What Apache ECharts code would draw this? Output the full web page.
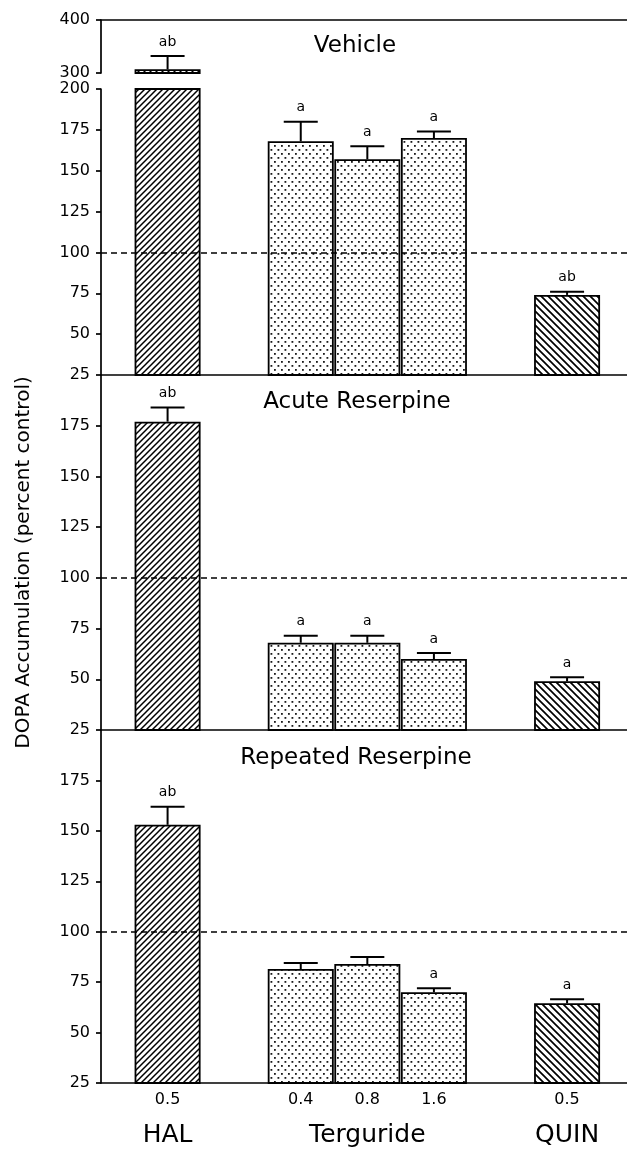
<!DOCTYPE html>
<html><head><meta charset="utf-8">
<script src="https://cdn.jsdelivr.net/npm/echarts@6/dist/echarts.min.js"></script>
<style>html,body{margin:0;padding:0;background:#fff}#c{width:627px;height:1155px}</style>
</head><body><div id="c"></div>
<script>
// ---- data ----
const doseLabels = ['0.5', '0.4', '0.8', '1.6', '0.5'];
const xPos = [1, 3, 4, 5, 7];
const groupNames = ['HAL', 'Terguride', 'QUIN'];
const groupPos = [1, 4, 7];
const fills = ['hatchUp', 'dots', 'dots', 'dots', 'hatchDown'];
const panelTitles = ['Vehicle', 'Acute Reserpine', 'Repeated Reserpine'];
const refValue = 100;

const vehicleMean = [307, 168, 157, 170, 74];
const vehicleErr = [332, 180, 165, 174, 76];
const vehicleSig = ['ab', 'a', 'a', 'a', 'ab'];

const acuteMean = [177, 68, 68, 60, 49];
const acuteErr = [184, 71.5, 71.5, 63, 51];
const acuteSig = ['ab', 'a', 'a', 'a', 'a'];

const repeatedMean = [153, 81.5, 84, 70, 64.5];
const repeatedErr = [162, 84.5, 87.5, 72, 66.5];
const repeatedSig = ['ab', '', '', 'a', 'a'];

const yAxisName = 'DOPA Accumulation (percent control)';

// ---- patterns ----
function makePattern(kind) {
  const c = document.createElement('canvas');
  let w, h;
  if (kind === 'hatchUp') { w = h = 6; }
  else if (kind === 'hatchDown') { w = h = 7; }
  else { w = 7; h = 8; }
  c.width = w; c.height = h;
  const ctx = c.getContext('2d');
  ctx.fillStyle = '#fff'; ctx.fillRect(0, 0, w, h);
  ctx.strokeStyle = '#000'; ctx.fillStyle = '#1a1a1a';
  if (kind === 'hatchUp') {
    ctx.lineWidth = 1.5;
    ctx.beginPath();
    ctx.moveTo(0, h); ctx.lineTo(w, 0);
    ctx.moveTo(-1, 1); ctx.lineTo(1, -1);
    ctx.moveTo(w - 1, h + 1); ctx.lineTo(w + 1, h - 1);
    ctx.stroke();
  } else if (kind === 'hatchDown') {
    ctx.lineWidth = 1.7;
    ctx.beginPath();
    ctx.moveTo(0, 0); ctx.lineTo(w, h);
    ctx.moveTo(-1, h - 1); ctx.lineTo(1, h + 1);
    ctx.moveTo(w - 1, -1); ctx.lineTo(w + 1, 1);
    ctx.stroke();
  } else {
    ctx.fillRect(1, 1, 1.8, 1.8);
    ctx.fillRect(4.5, 5, 1.8, 1.8);
  }
  return { image: c, repeat: 'repeat' };
}
const patterns = {
  hatchUp: makePattern('hatchUp'),
  hatchDown: makePattern('hatchDown'),
  dots: makePattern('dots')
};

const FONT = 'DejaVu Sans';
const chart = echarts.init(document.getElementById('c'));

const grids = [
  { left: 101, right: 0, top: 20, height: 53, containLabel: false, outerBoundsMode: 'none' },
  { left: 101, right: 0, top: 89, height: 286, containLabel: false, outerBoundsMode: 'none' },
  { left: 101, right: 0, top: 375, height: 355, containLabel: false, outerBoundsMode: 'none' },
  { left: 101, right: 0, top: 730, height: 353, containLabel: false, outerBoundsMode: 'none' }
];
const yRanges = [[300, 400, 100], [25, 200, 25], [25, 200, 25], [25, 200, 25]];

const axisLineStyle = { color: '#000', width: 1.7 };
const xAxes = grids.map((g, i) => ({
  gridIndex: i, type: 'value', min: 0, max: 7.9,
  position: i === 0 ? 'top' : 'bottom',
  interval: 1,
  axisLine: { show: true, onZero: false, lineStyle: axisLineStyle },
  axisTick: { show: false },
  splitLine: { show: false },
  axisLabel: i === 3 ? {
    show: true, color: '#000', fontFamily: FONT, fontSize: 16, margin: 9,
    showMaxLabel: false, showMinLabel: true,
    formatter: v => { const k = xPos.indexOf(v); return k >= 0 ? doseLabels[k] : ''; }
  } : { show: false }
}));
xAxes.push({
  gridIndex: 3, type: 'value', min: 0, max: 7.9, position: 'bottom', offset: 30, interval: 1,
  axisLine: { show: false }, axisTick: { show: false }, splitLine: { show: false },
  axisLabel: {
    show: true, color: '#000', fontFamily: FONT, fontSize: 25, margin: 10, showMaxLabel: false,
    formatter: v => { const k = groupPos.indexOf(v); return k >= 0 ? groupNames[k] : ''; }
  }
});

const yAxes = yRanges.map((r, i) => {
  const ax = {
    gridIndex: i, type: 'value', min: r[0], max: r[1], interval: r[2],
    axisLine: { show: true, lineStyle: axisLineStyle },
    axisTick: { show: true, length: 5, lineStyle: axisLineStyle },
    splitLine: { show: false },
    axisLabel: { color: '#000', fontFamily: FONT, fontSize: 16, margin: 11, showMaxLabel: i < 2 }
  };
  if (i === 2) {
    ax.name = yAxisName;
    ax.nameLocation = 'middle';
    ax.nameRotate = 90;
    ax.nameGap = 67;
    ax.nameTextStyle = { color: '#000', fontFamily: FONT, fontSize: 20, padding: [0, 20, 0, 0] };
  }
  return ax;
});

const panels = [
  { grids: [0, 1], mean: vehicleMean, err: vehicleErr, sig: vehicleSig },
  { grids: [2], mean: acuteMean, err: acuteErr, sig: acuteSig },
  { grids: [3], mean: repeatedMean, err: repeatedErr, sig: repeatedSig }
];

const series = [];
panels.forEach(p => {
  p.grids.forEach(gi => {
    const lo = yRanges[gi][0], hi = yRanges[gi][1];
    const barItems = [];
    p.mean.forEach((m, i) => {
      if (m > lo) barItems.push({ value: [xPos[i], m], itemStyle: { color: patterns[fills[i]] } });
    });
    series.push({
      type: 'bar', xAxisIndex: gi, yAxisIndex: gi, data: barItems, barWidth: 66, clip: true,
      itemStyle: { borderColor: '#000', borderWidth: 1.8 },
      silent: true, z: 2
    });
    const idx = [];
    p.mean.forEach((m, i) => { if (p.err[i] <= hi && m >= lo) idx.push(i); });
    const errData = idx.map(i => [xPos[i], p.mean[i], p.err[i]]);
    const sigs = idx.map(i => p.sig[i]);
    const s = {
      type: 'custom', xAxisIndex: gi, yAxisIndex: gi, data: errData, z: 3, silent: true,
      encode: { x: 0, y: [1, 2] },
      renderItem: (params, api) => {
        const x = api.value(0), m = api.value(1), e = api.value(2);
        const p0 = api.coord([x, m]), p1 = api.coord([x, e]);
        return {
          type: 'group', children: [
            { type: 'line', shape: { x1: p0[0], y1: p0[1], x2: p1[0], y2: p1[1] }, style: { stroke: '#000', lineWidth: 2 } },
            { type: 'line', shape: { x1: p1[0] - 17, y1: p1[1], x2: p1[0] + 17, y2: p1[1] }, style: { stroke: '#000', lineWidth: 2 } },
            { type: 'text', x: p1[0], y: p1[1] - 14, style: { text: sigs[params.dataIndex], font: '14px "DejaVu Sans"', fill: '#000', textAlign: 'center', textVerticalAlign: 'middle' } }
          ]
        };
      }
    };
    if (gi !== 0) {
      s.markLine = {
        silent: true, symbol: 'none', label: { show: false },
        lineStyle: { color: '#000', width: 1.5, type: [6, 4] },
        data: [{ yAxis: refValue }]
      };
    }
    series.push(s);
  });
});

const titlePos = [[355, 46], [357, 402], [356, 758]];
const graphic = panelTitles.map((t, i) => ({
  type: 'text', x: titlePos[i][0], y: titlePos[i][1], z: 10,
  style: { text: t, font: '23px "DejaVu Sans"', fill: '#000', textAlign: 'center', textVerticalAlign: 'middle' }
}));

chart.setOption({
  animation: false,
  backgroundColor: '#fff',
  grid: grids,
  xAxis: xAxes,
  yAxis: yAxes,
  series: series,
  graphic: graphic
});
</script>
</body></html>
